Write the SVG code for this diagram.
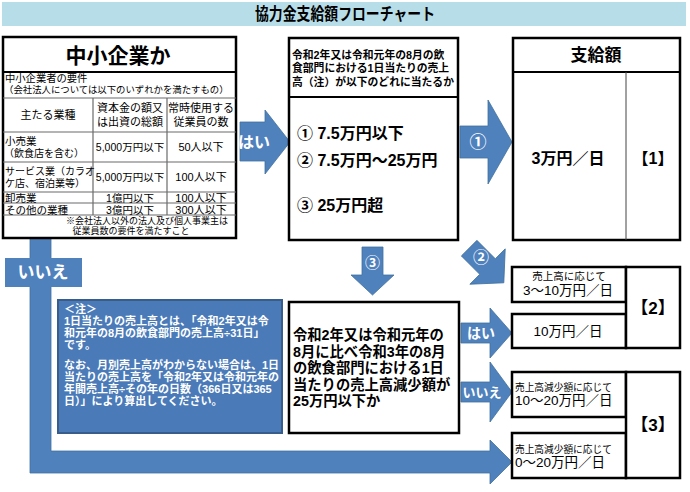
<svg xmlns="http://www.w3.org/2000/svg" width="690" height="492" viewBox="0 0 690 492">
<defs>
<style>
text{font-family:"Liberation Sans","Noto Sans CJK JP",sans-serif;fill:#000;dominant-baseline:central}
.b{font-weight:bold}
.c{text-anchor:middle}
.w{fill:#fff;font-weight:bold}
.box{fill:#fff;stroke:#000;stroke-width:2.5}
.ln{stroke:#000;stroke-width:2}
.tl{stroke:#6b6b6b;stroke-width:1.2;fill:none}
.thin{stroke:#444;stroke-width:1;fill:none}
.arr{fill:#4f81bd;stroke:#41719c;stroke-width:0.8}
</style>
</defs>
<rect width="690" height="492" fill="#fff"/>
<g id="title">
<rect x="2" y="2" width="684" height="24" fill="#b7dde8"/>
<text x="345" y="14" class="b c" font-size="16.5" textLength="180" lengthAdjust="spacingAndGlyphs">協力金支給額フローチャート</text>
</g>
<g id="connectors">
<path class="arr" d="M30,237 L51,237 L51,451 L490,451 L490,440 L512,462 L490,484 L490,473 L30,473 Z"/>
<rect x="5" y="258" width="77" height="29" fill="#4f81bd"/>
<text x="43" y="272" class="w c" font-size="17">いいえ</text>
<path class="arr" d="M240,122 L265,122 L265,110 L290,142 L265,174 L265,161 L240,161 Z"/>
<text x="254" y="142" class="w c" font-size="16">はい</text>
<path class="arr" d="M460,126 L488,126 L488,100 L512,142 L488,184 L488,158 L460,158 Z"/>
<text x="478" y="142" class="w c" font-size="17">①</text>
<path class="arr" d="M362,247 L383,247 L383,275 L394,275 L372.5,295 L351,275 L362,275 Z"/>
<text x="372.5" y="262" class="w c" font-size="15">③</text>
<g transform="translate(484,263) rotate(45)">
<path class="arr" d="M-21,-11 L5,-11 L5,-25 L28,0 L5,25 L5,11 L-21,11 Z"/>
</g>
<text x="481" y="257" class="w c" font-size="16">②</text>
<path class="arr" d="M461,323 L490,323 L490,308 L512,333 L490,358 L490,343 L461,343 Z"/>
<text x="481" y="333" class="w c" font-size="14">はい</text>
<path class="arr" d="M461,382 L490,382 L490,362 L512,392 L490,422 L490,402 L461,402 Z"/>
<text x="482" y="392" class="w c" font-size="13">いいえ</text>
</g>
<g id="node-sme">
<rect class="box" x="3" y="37" width="233" height="201"/>
<line class="ln" x1="3" y1="72" x2="236" y2="72"/>
<text x="118" y="55" class="b c" font-size="21">中小企業か</text>
<text x="5" y="78" font-size="10.3">中小企業者の要件</text>
<text x="4" y="89" font-size="9.4">（会社法人については以下のいずれかを満たすもの）</text>
<path class="tl" d="M3,98 H236 M3,132 H236 M3,162 H236 M3,192 H236 M3,203 H236 M3,215 H236 M93,98 V215 M167,98 V215"/>
<text x="48" y="115" class="c" font-size="11">主たる業種</text>
<text x="130" y="108" class="c" font-size="11">資本金の額又</text>
<text x="130" y="122" class="c" font-size="11">は出資の総額</text>
<text x="201" y="108" class="c" font-size="11">常時使用する</text>
<text x="201" y="122" class="c" font-size="11">従業員の数</text>
<text x="5" y="141" font-size="10.5">小売業</text>
<text x="4" y="153" font-size="10">（飲食店を含む）</text>
<text x="130" y="147" class="c" font-size="10.5">5,000万円以下</text>
<text x="201" y="147" class="c" font-size="11">50人以下</text>
<text x="5" y="171" font-size="10">サービス業（カラオ</text>
<text x="5" y="183" font-size="10">ケ店、宿泊業等）</text>
<text x="130" y="177" class="c" font-size="10.5">5,000万円以下</text>
<text x="201" y="177" class="c" font-size="11">100人以下</text>
<text x="5" y="198" font-size="10.5">卸売業</text>
<text x="130" y="198" class="c" font-size="10.5">1億円以下</text>
<text x="201" y="198" class="c" font-size="11">100人以下</text>
<text x="5" y="210" font-size="10.5">その他の業種</text>
<text x="130" y="210" class="c" font-size="10.5">3億円以下</text>
<text x="201" y="210" class="c" font-size="11">300人以下</text>
<text x="147" y="221" class="c" font-size="9">※会社法人以外の法人及び個人事業主は</text>
<text x="131" y="231" class="c" font-size="9">従業員数の要件を満たすこと</text>
</g>
<g id="node-criteria">
<rect class="box" x="289" y="38" width="169" height="202"/>
<line class="ln" x1="289" y1="97" x2="458" y2="97"/>
<text x="292" y="55" class="b" font-size="10.8">令和2年又は令和元年の8月の飲</text>
<text x="292" y="68" class="b" font-size="10.8">食部門における1日当たりの売上</text>
<text x="292" y="82" class="b" font-size="10.8">高（注）が以下のどれに当たるか</text>
<text x="297" y="133" class="b" font-size="16">① 7.5万円以下</text>
<text x="297" y="160" class="b" font-size="16">② 7.5万円～25万円</text>
<text x="297" y="205" class="b" font-size="16">③ 25万円超</text>
</g>
<g id="node-amount1">
<rect class="box" x="513" y="38" width="167" height="202"/>
<line class="ln" x1="513" y1="72" x2="680" y2="72"/>
<line class="thin" x1="626" y1="72" x2="626" y2="240"/>
<text x="596" y="55" class="b c" font-size="17">支給額</text>
<text x="568" y="158" class="b c" font-size="16">3万円／日</text>
<text x="653" y="158" class="b c" font-size="16">【1】</text>
</g>
<g id="node-note">
<rect x="58" y="300" width="224" height="133" fill="#4a7ab8" stroke="#385d8a" stroke-width="2"/>
<text x="64" y="309" class="w" font-size="11">＜注＞</text>
<text x="64" y="321" class="w" font-size="11">1日当たりの売上高とは、「令和2年又は令</text>
<text x="64" y="333" class="w" font-size="11">和元年の8月の飲食部門の売上高÷31日」</text>
<text x="64" y="345" class="w" font-size="11">です。</text>
<text x="64" y="365" class="w" font-size="11">なお、月別売上高がわからない場合は、1日</text>
<text x="64" y="377" class="w" font-size="11">当たりの売上高を「令和2年又は令和元年の</text>
<text x="64" y="389" class="w" font-size="11">年間売上高÷その年の日数（366日又は365</text>
<text x="64" y="401" class="w" font-size="11">日）」により算出してください。</text>
</g>
<g id="node-question3">
<rect class="box" x="289" y="302" width="170" height="131"/>
<text x="293" y="335" class="b" font-size="14.3">令和2年又は令和元年の</text>
<text x="293" y="351.5" class="b" font-size="14.3">8月に比べ令和3年の8月</text>
<text x="293" y="368" class="b" font-size="14.3">の飲食部門における1日</text>
<text x="293" y="384.5" class="b" font-size="14.3">当たりの売上高減少額が</text>
<text x="293" y="401" class="b" font-size="14.3">25万円以下か</text>
</g>
<g id="node-amount2">
<rect class="box" x="512" y="267" width="114" height="35"/>
<rect class="box" x="512" y="314" width="114" height="34"/>
<rect class="box" x="626" y="267" width="54" height="81"/>
<text x="569" y="276" class="c" font-size="10.5">売上高に応じて</text>
<text x="568" y="290" class="c" font-size="13.5">3～10万円／日</text>
<text x="568" y="331" class="c" font-size="13.5">10万円／日</text>
<text x="653" y="308" class="b c" font-size="17">【2】</text>
</g>
<g id="node-amount3">
<rect class="box" x="512" y="372" width="114" height="45"/>
<rect class="box" x="512" y="433" width="114" height="45"/>
<rect class="box" x="626" y="372" width="54" height="106"/>
<text x="515" y="387" font-size="9.7">売上高減少額に応じて</text>
<text x="515" y="400" font-size="13.5">10～20万円／日</text>
<text x="515" y="449" font-size="9.7">売上高減少額に応じて</text>
<text x="515" y="462" font-size="13.5">0～20万円／日</text>
<text x="653" y="425" class="b c" font-size="17">【3】</text>
</g>
</svg>
